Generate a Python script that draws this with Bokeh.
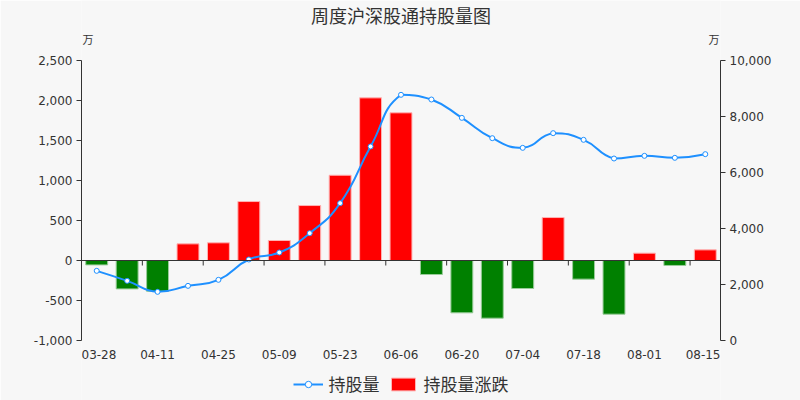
import numpy as np
from bokeh.plotting import figure
from bokeh.models import (ColumnDataSource, Range1d, LinearAxis, FixedTicker,
                          NumeralTickFormatter, Legend, LegendItem, Label, Span)
from bokeh.embed import file_html
from bokeh.resources import INLINE

dates = ["03-28", "04-04", "04-11", "04-18", "04-25", "05-02", "05-09", "05-16",
         "05-23", "05-30", "06-06", "06-13", "06-20", "06-27", "07-04", "07-11",
         "07-18", "07-25", "08-01", "08-08", "08-15"]
holding = [2488, 2131, 1738, 1952, 2167, 2893, 3143, 3833, 4905, 6929, 8774,
           8607, 7952, 7226, 6881, 7405, 7167, 6500, 6595, 6524, 6655]
change = [-55, -355, -385, 208, 221, 737, 250, 687, 1066, 2033, 1846,
          -175, -654, -721, -350, 537, -233, -671, 92, -62, 133]
left_ticks = [-1000, -500, 0, 500, 1000, 1500, 2000, 2500]
right_ticks = [0, 2000, 4000, 6000, 8000, 10000]

TITLE = "周度沪深股通持股量图"
UNIT = "万"
CJK = "Noto Sans CJK SC"
LAT = "DejaVu Sans"
TXT = "#333333"
BG = "#f7f7f7"
BLUE = "#1e90ff"

# layout (pixels)
W, H = 800, 400
PL, PR = 81, 80            # side borders holding the y axes
TOP, BOT = 60, 340         # vertical extent of the axes inside the canvas
FW = W - PL - PR
AH = BOT - TOP

n = len(dates)
xc = [i + 0.5 for i in range(n)]
colors = ["#ff0000" if v >= 0 else "#008000" for v in change]
borders = ["#ffb3b3" if v >= 0 else "#99cc99" for v in change]

lspan = left_ticks[-1] - left_ticks[0]
rspan = right_ticks[-1] - right_ticks[0]
lu = lspan / AH            # left units per pixel
ru = rspan / AH
y_end = left_ticks[-1] + TOP * lu
y_start = left_ticks[0] - (H - BOT) * lu
r_end = right_ticks[-1] + TOP * ru
r_start = right_ticks[0] - (H - BOT) * ru


def ypix(py):
    return y_end - py * lu


p = figure(width=W, height=H, output_backend="svg", toolbar_location=None,
           title=None, x_axis_location=None,
           x_range=Range1d(0, n), y_range=Range1d(y_start, y_end),
           min_border_left=PL, min_border_right=PR, min_border_top=0,
           min_border_bottom=0, background_fill_color=BG, border_fill_color=BG,
           outline_line_color=None)
p.extra_y_ranges = {"right": Range1d(r_start, r_end)}
p.xgrid.visible = False
p.ygrid.visible = False

# bars
bsrc = ColumnDataSource(dict(x=xc, top=change, color=colors, border=borders))
bars = p.vbar(x="x", top="top", bottom=0, width=0.72, source=bsrc,
              fill_color="color", line_color="border", line_width=1)

# zero axis line and its ticks at category boundaries
p.add_layout(Span(location=0, dimension="width", line_color=TXT, line_width=1))
bnd = list(range(0, n + 1, 2))
p.segment(x0=bnd, x1=bnd, y0=[0] * len(bnd), y1=[-5 * lu] * len(bnd),
          line_color=TXT, line_width=1)

# smooth line (echarts-like bezier control points, computed in pixel space)
sx = FW / n
sy = 1.0 / ru
px = np.array(xc) * sx
py = np.array(holding) * sy
smooth = 0.5
segs = dict(x0=[], y0=[], x1=[], y1=[], cx0=[], cy0=[], cx1=[], cy1=[])
cpx0, cpy0 = px[0], py[0]
for k in range(1, n):
    x, y = px[k], py[k]
    prevX, prevY = px[k - 1], py[k - 1]
    if k == n - 1:
        cpx1, cpy1 = x, y
        ncpx0, ncpy0 = x, y
    else:
        nextX, nextY = px[k + 1], py[k + 1]
        vx, vy = nextX - prevX, nextY - prevY
        l0 = np.hypot(x - prevX, y - prevY)
        l1 = np.hypot(nextX - x, nextY - y)
        r = l1 / (l0 + l1)
        cpx1 = x - vx * smooth * (1 - r)
        cpy1 = y - vy * smooth * (1 - r)
        ncpx0 = x + vx * smooth * r
        ncpy0 = y + vy * smooth * r
        ncpx0 = min(ncpx0, max(nextX, x)); ncpx0 = max(ncpx0, min(nextX, x))
        ncpy0 = min(ncpy0, max(nextY, y)); ncpy0 = max(ncpy0, min(nextY, y))
        cpx1 = min(cpx1, max(prevX, x)); cpx1 = max(cpx1, min(prevX, x))
        cpy1 = min(cpy1, max(prevY, y)); cpy1 = max(cpy1, min(prevY, y))
    segs["x0"].append(prevX / sx); segs["y0"].append(prevY / sy)
    segs["x1"].append(x / sx); segs["y1"].append(y / sy)
    segs["cx0"].append(cpx0 / sx); segs["cy0"].append(cpy0 / sy)
    segs["cx1"].append(cpx1 / sx); segs["cy1"].append(cpy1 / sy)
    cpx0, cpy0 = ncpx0, ncpy0

curve = p.bezier(source=ColumnDataSource(segs), x0="x0", y0="y0", x1="x1", y1="y1",
                 cx0="cx0", cy0="cy0", cx1="cx1", cy1="cy1",
                 line_color=BLUE, line_width=2, y_range_name="right")
pts = p.scatter(x=xc, y=holding, size=5, marker="circle", fill_color="white",
                line_color=BLUE, line_width=1, y_range_name="right")

# y axes
la = p.yaxis[0]
la.ticker = FixedTicker(ticks=left_ticks)
la.formatter = NumeralTickFormatter(format="0,0")
la.bounds = (left_ticks[0], left_ticks[-1])
ra = LinearAxis(y_range_name="right", ticker=FixedTicker(ticks=right_ticks),
                formatter=NumeralTickFormatter(format="0,0"),
                bounds=(right_ticks[0], right_ticks[-1]))
p.add_layout(ra, "right")
for ax in (la, ra):
    ax.axis_line_color = TXT
    ax.major_tick_line_color = TXT
    ax.major_tick_out = 5
    ax.major_tick_in = 0
    ax.minor_tick_line_color = None
    ax.major_label_text_font = LAT
    ax.major_label_text_font_size = "12px"
    ax.major_label_text_color = TXT
    ax.major_label_standoff = 4

# x labels under the plot area (edge labels kept inside the drawing area)
shown = list(range(0, n, 2))
for i in shown:
    if i == shown[0]:
        lx, al = 0, "left"
    elif i == shown[-1]:
        lx, al = n, "right"
    else:
        lx, al = xc[i], "center"
    p.add_layout(Label(x=lx, y=ypix(354), text=dates[i], text_align=al,
                       text_baseline="middle", text_font=LAT, text_font_size="12px",
                       text_color=TXT))

# title and units
p.add_layout(Label(x=n / 2, y=ypix(14), text=TITLE, text_align="center",
                   text_baseline="middle", text_font=CJK, text_font_size="18px",
                   text_color=TXT))
p.add_layout(Label(x=0, y=ypix(38), text=UNIT, text_align="left", x_offset=1,
                   text_baseline="middle", text_font=CJK, text_font_size="11px",
                   text_color=TXT))
p.add_layout(Label(x=n, y=ypix(38), text=UNIT, text_align="right", x_offset=-1,
                   text_baseline="middle", text_font=CJK, text_font_size="11px",
                   text_color=TXT))

first_red = next(i for i, v in enumerate(change) if v >= 0)
legend = Legend(items=[LegendItem(label="持股量", renderers=[curve, pts]),
                       LegendItem(label="持股量涨跌", renderers=[bars], index=first_red)],
                orientation="horizontal", location="bottom_center",
                label_text_font=CJK, label_text_font_size="17px",
                label_text_color=TXT, glyph_width=30, glyph_height=16,
                label_standoff=6, spacing=8, padding=2, margin=4,
                border_line_color=None, background_fill_alpha=0)
p.add_layout(legend)

open("out.html", "w").write(file_html(p, INLINE))
